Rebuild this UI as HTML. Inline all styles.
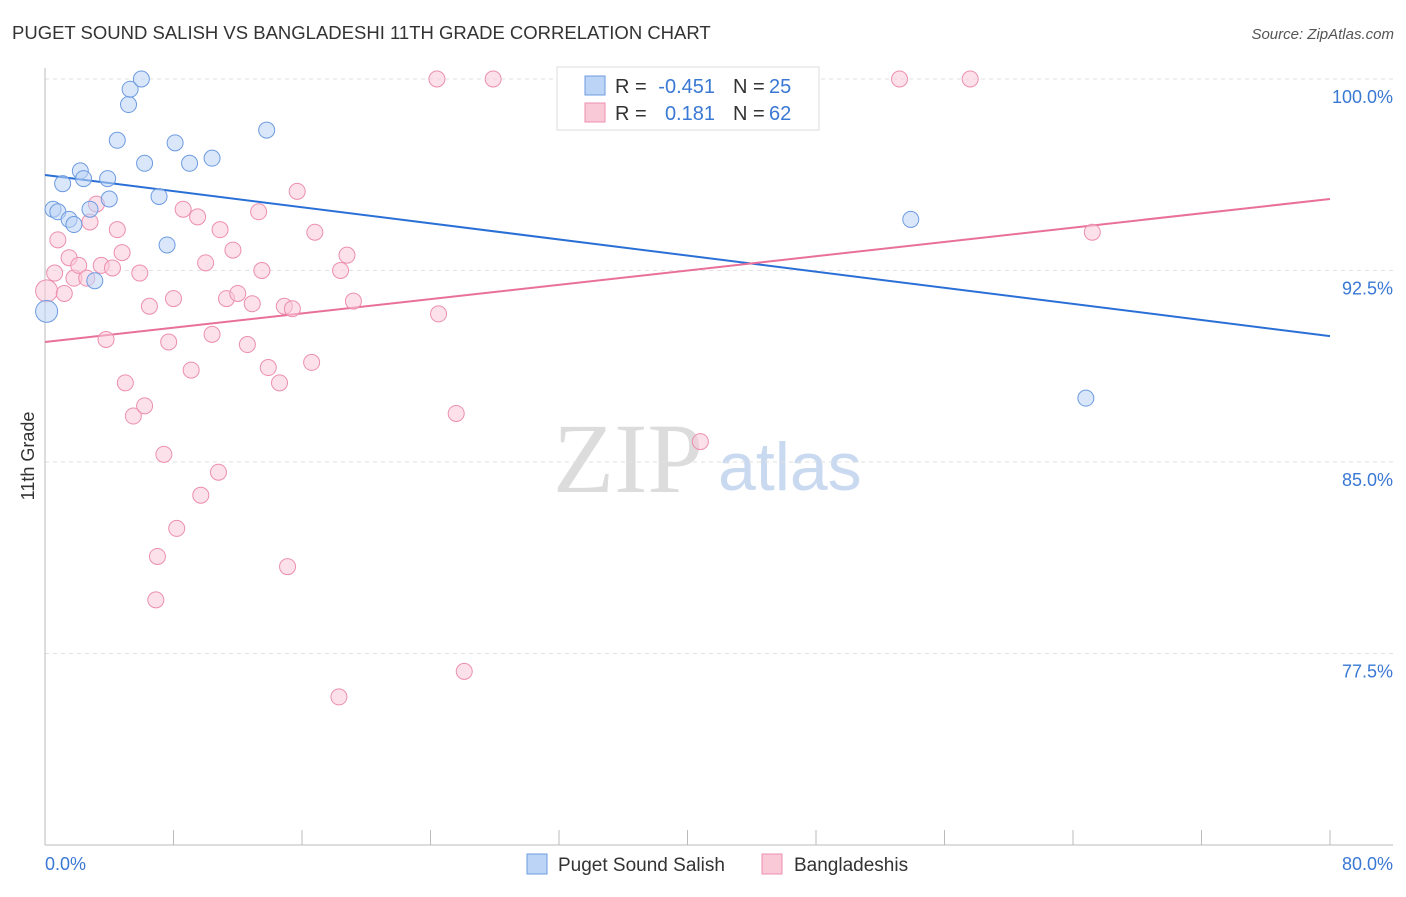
<!DOCTYPE html>
<html><head><meta charset="utf-8"><style>
body{margin:0;background:#fff;font-family:"Liberation Sans",sans-serif;}
</style></head><body>
<svg id="c" width="1406" height="892" xmlns="http://www.w3.org/2000/svg" style="font-family:'Liberation Sans',sans-serif">
<text x="12" y="39" font-size="18.5" fill="#333">PUGET SOUND SALISH VS BANGLADESHI 11TH GRADE CORRELATION CHART</text>
<text x="1394" y="39" font-size="15" fill="#555" text-anchor="end" font-style="italic">Source: ZipAtlas.com</text>
<text x="34" y="456" font-size="18" fill="#333" text-anchor="middle" transform="rotate(-90 34 456)">11th Grade</text>
<text x="553" y="492" font-size="100" fill="#dcdcdc" style="font-family:'Liberation Serif',serif">ZIP</text>
<text x="718" y="490" font-size="68" fill="#c9d9f0">atlas</text>
<g id="grid"></g><g id="axes"></g><g id="lines"></g><g id="pts"></g>
<g>
<rect x="557" y="67" width="262" height="63" fill="#fff" stroke="#ddd"/>
<rect x="585" y="76" width="20" height="19" fill="#bcd4f5" stroke="#6d9be0"/>
<rect x="585" y="103" width="20" height="19" fill="#fac9d8" stroke="#ec8fae"/>
<text x="615" y="93" font-size="20" fill="#333">R =</text>
<text x="715" y="93" font-size="20" fill="#3a78d4" text-anchor="end">-0.451</text>
<text x="733" y="93" font-size="20" fill="#333">N =</text>
<text x="769" y="93" font-size="20" fill="#3a78d4">25</text>
<text x="615" y="120" font-size="20" fill="#333">R =</text>
<text x="715" y="120" font-size="20" fill="#3a78d4" text-anchor="end">0.181</text>
<text x="733" y="120" font-size="20" fill="#333">N =</text>
<text x="769" y="120" font-size="20" fill="#3a78d4">62</text>
</g>
<g>
<rect x="527" y="854" width="20" height="20" fill="#bcd4f5" stroke="#6d9be0"/>
<text x="558" y="871" font-size="19" fill="#333">Puget Sound Salish</text>
<rect x="762" y="854" width="20" height="20" fill="#fac9d8" stroke="#ec8fae"/>
<text x="794" y="871" font-size="19" fill="#333">Bangladeshis</text>
</g>
</svg>
<script>
const yTicks=[100,92.5,85,77.5];
const yTickLabels=["100.0%","92.5%","85.0%","77.5%"];
const xLabels=["0.0%","80.0%"];
const blueX=[0.1,0.5,0.8,1.1,1.5,1.8,2.2,2.4,2.8,3.1,3.9,4.0,4.5,5.2,5.3,6.0,6.2,7.1,7.6,8.1,9.0,10.4,13.8,53.9,64.8];
const blueY=[90.9,94.9,94.8,95.9,94.5,94.3,96.4,96.1,94.9,92.1,96.1,95.3,97.6,99.0,99.6,100.0,96.7,95.4,93.5,97.5,96.7,96.9,98.0,94.5,87.5];
const pinkX=[0.1,0.6,0.8,1.2,1.5,1.8,2.1,2.6,2.8,3.2,3.5,3.8,4.2,4.5,4.8,5.0,5.5,5.9,6.2,6.5,7.0,6.9,7.4,7.7,8.0,8.2,8.6,9.1,9.5,9.7,10.0,10.4,10.8,10.9,11.3,11.7,12.0,12.6,12.9,13.3,13.5,13.9,14.6,14.9,15.1,15.4,15.7,16.6,16.8,18.3,18.4,18.8,19.2,24.4,24.5,25.6,26.1,27.9,40.8,53.2,57.6,65.2];
const pinkY=[91.7,92.4,93.7,91.6,93.0,92.2,92.7,92.2,94.4,95.1,92.7,89.8,92.6,94.1,93.2,88.1,86.8,92.4,87.2,91.1,81.3,79.6,85.3,89.7,91.4,82.4,94.9,88.6,94.6,83.7,92.8,90.0,84.6,94.1,91.4,93.3,91.6,89.6,91.2,94.8,92.5,88.7,88.1,91.1,80.9,91.0,95.6,88.9,94.0,75.8,92.5,93.1,91.3,100.0,90.8,86.9,76.8,100.0,85.8,100.0,100.0,94.0];
const blueTrend=[96.24,89.93];
const pinkTrend=[89.70,95.30];
const X=v=>45+v/80*1285, Y=v=>79+(100-v)/30*766;
const NS="http://www.w3.org/2000/svg";
function mk(p,t,a){const e=document.createElementNS(NS,t);for(const k in a)e.setAttribute(k,a[k]);document.getElementById(p).appendChild(e);return e;}
yTicks.forEach((t,i)=>{
 const g=mk('grid','line',{x1:45,x2:1393,y1:Y(t),y2:Y(t),stroke:'#e2e2e2','stroke-dasharray':'4 4'});
 
 
 const l=mk('grid','text',{x:1393,y:Y(t)+24,'font-size':18,fill:'#3a78d4','text-anchor':'end'});l.textContent=yTickLabels[i];
 
 
});
let a=mk('axes','line',{x1:45,x2:45,y1:68,y2:845,stroke:'#bbb'});


a=mk('axes','line',{x1:45,x2:1393,y1:845,y2:845,stroke:'#bbb'});


for(let i=0;i<=10;i++){const t=mk('axes','line',{x1:X(i*8),x2:X(i*8),y1:830,y2:845,stroke:'#bbb'});
 
 }
[[0,'start',45],[80,'end',1393]].forEach((d,i)=>{const t=mk('axes','text',{x:d[2],y:870,'font-size':18,fill:'#3a78d4','text-anchor':d[1]});t.textContent=xLabels[i];
 
 });
function pts(xs,ys,fill,stroke,name){xs.forEach((x,i)=>{const c=mk('pts','circle',{cx:X(x),cy:Y(ys[i]),r:(x<0.2?11:8),fill:fill,'fill-opacity':0.55,stroke:stroke,'stroke-width':1});
 
 });}
pts(pinkX,pinkY,'#fac9d8','#ec8fae','point-bangladeshi');
pts(blueX,blueY,'#bcd4f5','#6d9be0','point-puget');
let l=mk('lines','line',{x1:X(0),y1:Y(blueTrend[0]),x2:X(80),y2:Y(blueTrend[1]),stroke:'#2a6fd6','stroke-width':2});


l=mk('lines','line',{x1:X(0),y1:Y(pinkTrend[0]),x2:X(80),y2:Y(pinkTrend[1]),stroke:'#e8709a','stroke-width':2});


</script>
</body></html>
